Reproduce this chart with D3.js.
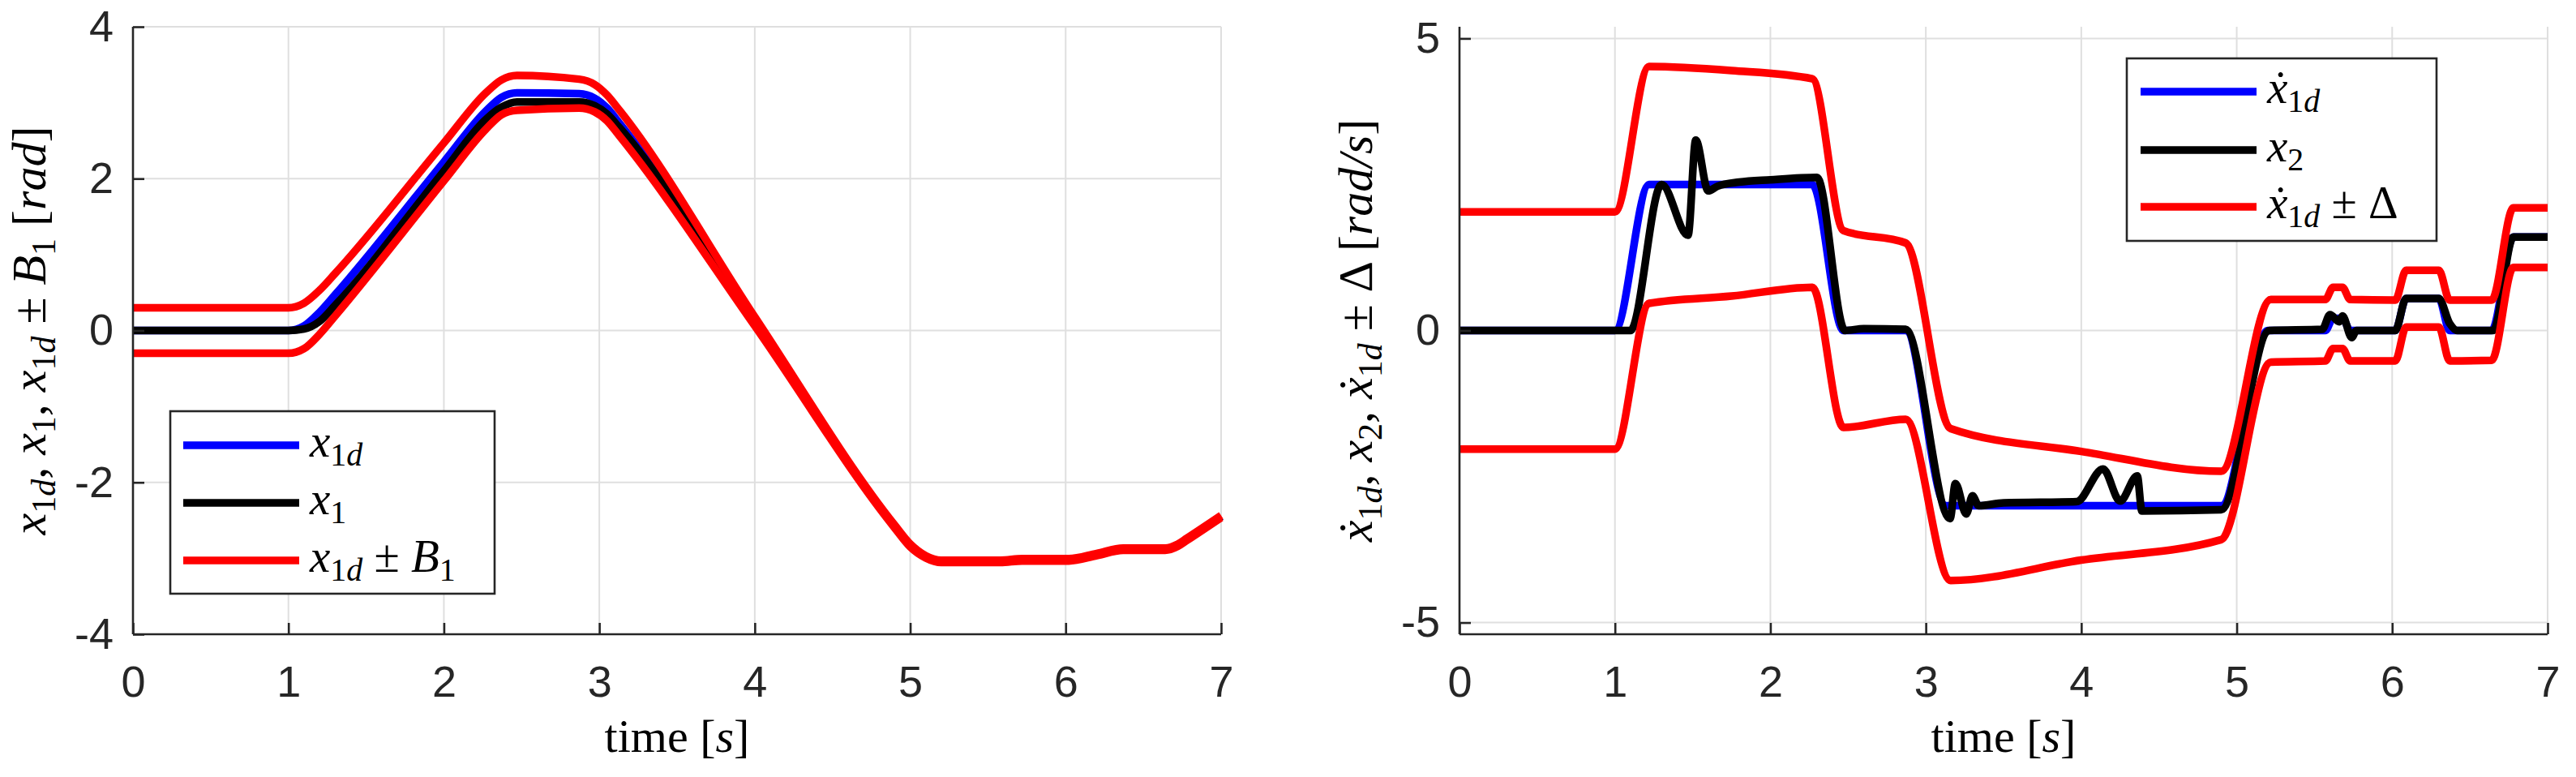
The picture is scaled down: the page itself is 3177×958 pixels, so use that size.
<!DOCTYPE html>
<html>
<head>
<meta charset="utf-8">
<script src="https://cdn.jsdelivr.net/npm/d3@7"></script>
<style>
  body { margin: 0; background: #fff; }
  .tick text { font-family: "Liberation Sans", Arial, sans-serif; fill: #262626; }
  .math { font-family: "Liberation Serif", "Times New Roman", serif; fill: #000; }
</style>
</head>
<body>
<div id="chart"></div>
<script>
// ---- left panel: position x1 [rad] ----
const tL     = [0, 1.0, 1.1, 1.2, 1.3, 2.0, 2.27, 2.37, 2.47, 2.87, 2.97, 3.05, 3.13, 4.0, 4.9, 5.0, 5.1, 5.2, 5.58, 5.72, 6.02, 6.2, 6.37, 6.64, 6.72, 6.78, 7.0];
const x1dL   = [0, 0, 0.06, 0.24, 0.47, 2.22, 2.89, 3.07, 3.13, 3.12, 3.06, 2.93, 2.73, 0.12, -2.58, -2.83, -2.98, -3.04, -3.04, -3.02, -3.02, -2.95, -2.88, -2.88, -2.83, -2.75, -2.45];
const x1L    = [0, 0, 0.02, 0.12, 0.33, 2.10, 2.78, 2.94, 3.01, 3.01, 2.96, 2.85, 2.67, 0.12, -2.58, -2.83, -2.98, -3.04, -3.04, -3.02, -3.02, -2.95, -2.88, -2.88, -2.83, -2.75, -2.45];
const upperL = [0.3, 0.3, 0.36, 0.53, 0.75, 2.47, 3.13, 3.30, 3.36, 3.31, 3.24, 3.10, 2.90, 0.18, -2.56, -2.81, -2.965, -3.025, -3.025, -3.005, -3.005, -2.935, -2.865, -2.865, -2.815, -2.735, -2.435];
const lowerL = [-0.3, -0.3, -0.24, -0.05, 0.19, 1.97, 2.65, 2.84, 2.90, 2.93, 2.88, 2.76, 2.56, 0.06, -2.60, -2.85, -2.995, -3.055, -3.055, -3.035, -3.035, -2.965, -2.895, -2.895, -2.845, -2.765, -2.465];

// ---- right panel: velocity [rad/s] ----
const tBlueR = [0, 1.0, 1.22, 2.27, 2.47, 2.87, 3.13, 4.9, 5.2, 5.57, 5.62, 5.68, 5.73, 6.02, 6.09, 6.3, 6.37, 6.64, 6.78, 7.0];
const xdotR  = [0, 0, 2.5, 2.5, 0, 0, -3, -3, 0, 0, 0.21, 0.21, 0, 0, 0.55, 0.55, 0, 0, 1.6, 1.6];

const tRedR   = [0, 1.0, 1.22, 1.75, 2.27, 2.47, 2.87, 3.16, 4.0, 4.9, 5.22, 5.57, 5.62, 5.68, 5.73, 6.02, 6.09, 6.3, 6.37, 6.64, 6.78, 7.0];
const upperR  = [2.03, 2.03, 4.52, 4.45, 4.31, 1.71, 1.50, -1.68, -2.07, -2.41, 0.53, 0.53, 0.74, 0.74, 0.53, 0.52, 1.03, 1.03, 0.52, 0.52, 2.10, 2.10];
const lowerR  = [-2.03, -2.03, 0.465, 0.59, 0.74, -1.66, -1.52, -4.28, -3.93, -3.58, -0.54, -0.52, -0.31, -0.31, -0.52, -0.52, 0.06, 0.06, -0.52, -0.51, 1.08, 1.08];

const tBlackR = [0, 1.1, 1.3, 1.47, 1.52, 1.6, 1.66, 1.8, 2.0, 2.3, 2.48, 2.6, 2.87, 3.156, 3.19, 3.26, 3.3, 3.34, 3.5, 3.97, 4.14, 4.25, 4.36, 4.39, 4.9, 5.21, 5.55, 5.6, 5.66, 5.68, 5.74, 5.77, 6.02, 6.09, 6.3, 6.37, 6.42, 6.65, 6.78, 7.0];
const x2R     = [0, 0, 2.5, 1.63, 3.26, 2.39, 2.47, 2.54, 2.58, 2.62, 0, 0.03, 0.02, -3.22, -2.62, -3.14, -2.83, -3.0, -2.95, -2.93, -2.37, -2.92, -2.49, -3.09, -3.07, 0.0, 0.02, 0.27, 0.15, 0.25, -0.12, 0.0, 0.0, 0.55, 0.55, 0.12, 0.0, 0.0, 1.6, 1.6];

const xTicks = [0, 1, 2, 3, 4, 5, 6, 7];
const yTicksL = [-4, -2, 0, 2, 4];
const yTicksR = [-5, 0, 5];

const W = 3177, H = 958;
const plotTop = 33, plotBottom = 782;
const axisColor = "#262626", gridColor = "#dfdfdf";
const lw = 9.5;

const svg = d3.select("#chart").append("svg")
    .attr("width", W)
    .attr("height", H)
    .style("background", "#fff");

// writes a little LaTeX-like label: [text, kind] with kind i / r / si / sr
function mathText(g, parts, size) {
  const text = g.append("text").attr("class", "math").attr("font-size", size);
  let shift = 0;
  parts.forEach(([s, kind]) => {
    const sub = kind[0] === "s";
    const target = sub ? size * 0.2 : 0;
    text.append("tspan")
        .attr("dy", target - shift)
        .attr("font-size", sub ? size * 0.7 : size)
        .attr("font-style", kind.endsWith("i") ? "italic" : "normal")
        .text(s);
    shift = target;
  });
  return text;
}

function panel(opts) {
  const x = d3.scaleLinear().domain([0, 7]).range([opts.left, opts.right]);
  const y = d3.scaleLinear().domain(opts.yDomain).range([plotBottom, plotTop]);
  const g = svg.append("g");

  // grid
  g.append("g").selectAll("line").data(xTicks).join("line")
      .attr("x1", d => x(d)).attr("x2", d => x(d))
      .attr("y1", plotTop).attr("y2", plotBottom)
      .attr("stroke", gridColor).attr("stroke-width", 2);
  g.append("g").selectAll("line").data(opts.yTicks).join("line")
      .attr("x1", opts.left).attr("x2", opts.right)
      .attr("y1", d => y(d)).attr("y2", d => y(d))
      .attr("stroke", gridColor).attr("stroke-width", 2);

  // series
  const line = d3.line().curve(d3.curveMonotoneX)
      .x(d => x(d[0])).y(d => y(d[1]));
  opts.series.forEach(s => {
    g.append("path")
        .datum(d3.zip(s.t, s.v))
        .attr("d", line)
        .attr("fill", "none")
        .attr("stroke", s.color)
        .attr("stroke-width", lw)
        .attr("stroke-linejoin", "round");
  });

  // axes
  const xAxis = g.append("g")
      .attr("transform", `translate(0,${plotBottom})`)
      .call(d3.axisBottom(x).tickValues(xTicks).tickFormat(d => String(d))
        .tickSize(-14).tickSizeOuter(0).tickPadding(39));
  const yAxis = g.append("g")
      .attr("transform", `translate(${opts.left},0)`)
      .call(d3.axisLeft(y).tickValues(opts.yTicks).tickFormat(d => String(d))
        .tickSize(-14).tickSizeOuter(0).tickPadding(24));
  [xAxis, yAxis].forEach(a => {
    a.select(".domain").attr("stroke", axisColor).attr("stroke-width", 2.6);
    a.selectAll(".tick line").attr("stroke", axisColor).attr("stroke-width", 2.6);
    a.selectAll(".tick text").attr("font-size", 54).attr("fill", axisColor);
  });
  yAxis.select(".domain").attr("d", `M0,${plotTop}V${plotBottom}`);
  xAxis.select(".domain").attr("d", `M${opts.left},0H${opts.right}`);

  // axis labels
  mathText(g, [["time", "r"], [" [", "r"], ["s", "i"], ["]", "r"]], 58)
      .attr("x", (opts.left + opts.right) / 2).attr("y", 927)
      .attr("text-anchor", "middle");
  mathText(g.append("g").attr("transform", `translate(${opts.labelX},${(plotTop + plotBottom) / 2}) rotate(-90)`),
      opts.yLabel, 60)
      .attr("text-anchor", "middle");

  // legend
  const L = opts.legend;
  const lg = g.append("g");
  lg.append("rect")
      .attr("x", L.x0).attr("y", L.y0)
      .attr("width", L.x1 - L.x0).attr("height", L.y1 - L.y0)
      .attr("fill", "#fff").attr("stroke", axisColor).attr("stroke-width", 2.6);
  opts.series.filter(s => s.label).forEach((s, i) => {
    const yy = L.rows[i];
    lg.append("line")
        .attr("x1", L.lx0).attr("x2", L.lx1)
        .attr("y1", yy).attr("y2", yy)
        .attr("stroke", s.color).attr("stroke-width", lw);
    mathText(lg, s.label, 57).attr("x", L.lx1 + 13).attr("y", yy + 14);
  });
}

panel({
  left: 164, right: 1506, yDomain: [-4, 4], yTicks: yTicksL, labelX: 56,
  yLabel: [["x","i"],["1","sr"],["d","si"],[", ","r"],["x","i"],["1","sr"],[", ","r"],
           ["x","i"],["1","sr"],["d","si"],[" \u00b1 ","r"],["B","i"],["1","sr"],[" [","r"],["rad","i"],["]","r"]],
  series: [
    { t: tL, v: x1dL, color: "#0000ff", label: [["x","i"],["1","sr"],["d","si"]] },
    { t: tL, v: x1L, color: "#000000", label: [["x","i"],["1","sr"]] },
    { t: tL, v: upperL, color: "#ff0000", label: [["x","i"],["1","sr"],["d","si"],[" \u00b1 ","r"],["B","i"],["1","sr"]] },
    { t: tL, v: lowerL, color: "#ff0000" }
  ],
  legend: { x0: 210, x1: 610, y0: 507, y1: 732, lx0: 226, lx1: 369, rows: [549, 620, 691] }
});

panel({
  left: 1800, right: 3142, yDomain: [-5.2, 5.2], yTicks: yTicksR, labelX: 1692,
  yLabel: [["\u1e8b","i"],["1","sr"],["d","si"],[", ","r"],["x","i"],["2","sr"],[", ","r"],
           ["\u1e8b","i"],["1","sr"],["d","si"],[" \u00b1 \u0394 ","r"],["[","r"],["rad/s","i"],["]","r"]],
  series: [
    { t: tBlueR, v: xdotR, color: "#0000ff", label: [["\u1e8b","i"],["1","sr"],["d","si"]] },
    { t: tBlackR, v: x2R, color: "#000000", label: [["x","i"],["2","sr"]] },
    { t: tRedR, v: upperR, color: "#ff0000", label: [["\u1e8b","i"],["1","sr"],["d","si"],[" \u00b1 \u0394","r"]] },
    { t: tRedR, v: lowerR, color: "#ff0000" }
  ],
  legend: { x0: 2623, x1: 3005, y0: 72, y1: 297, lx0: 2640, lx1: 2783, rows: [113, 185, 255] }
});
</script>
</body>
</html>
